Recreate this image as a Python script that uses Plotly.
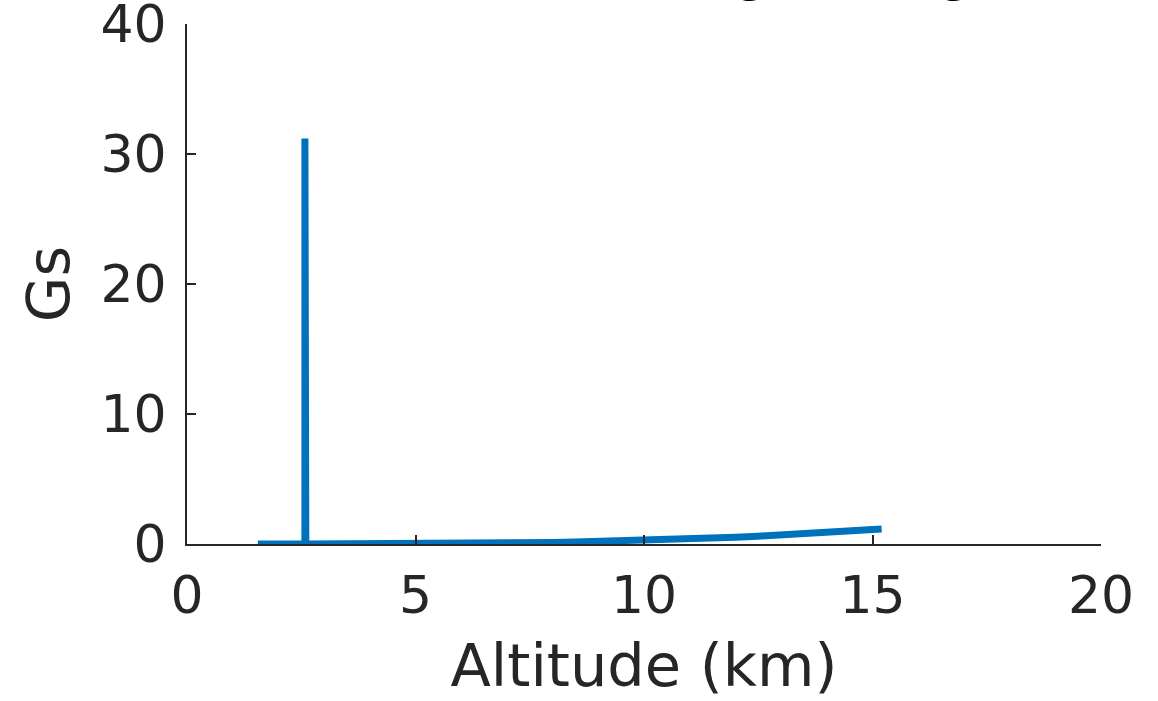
import plotly.graph_objects as go

# Data
altitude_km = [15.2, 14.5, 14.0, 13.5, 13.0, 12.5, 12.0, 11.5, 11.0, 10.5, 10.0, 9.5,
               9.0, 8.5, 8.0, 7.0, 6.0, 5.0, 4.0, 3.0, 2.6, 2.58, 2.58, 2.55, 2.0, 1.55]
gs = [1.15, 0.98, 0.87, 0.77, 0.68, 0.60, 0.52, 0.45, 0.39, 0.33, 0.28, 0.23,
      0.19, 0.155, 0.125, 0.08, 0.05, 0.03, 0.015, 0.005, 0.0, 31.2, 0.0, 0.0, 0.0, 0.0]

x_ticks = [0, 5, 10, 15, 20]
y_ticks = [0, 10, 20, 30, 40]
title_text = "Acceleration during Landing"

AX = "#262626"
FONT = "DejaVu Sans, Liberation Sans, Arial, sans-serif"

fig = go.Figure()
fig.add_trace(go.Scatter(
    x=altitude_km, y=gs, mode="lines",
    line=dict(color="#0072BD", width=7),
    showlegend=False, hoverinfo="skip",
))

fig.update_layout(
    width=1158, height=701,
    margin=dict(l=187, r=57, t=24, b=157, autoexpand=False),
    paper_bgcolor="white", plot_bgcolor="white",
    font=dict(family=FONT, color=AX),
    xaxis=dict(
        range=[0, 20], tickvals=x_ticks, ticktext=[str(v) for v in x_ticks],
        showline=True, linecolor=AX, linewidth=2, mirror=False,
        ticks="inside", ticklen=9, tickwidth=2, tickcolor=AX,
        showgrid=False, zeroline=False, automargin=False,
        tickfont=dict(size=52, family=FONT, color=AX),
        ticklabelstandoff=5, ticklabeloverflow="allow",
        title=dict(text="Altitude (km)", font=dict(size=59, family=FONT, color=AX), standoff=20),
    ),
    yaxis=dict(
        range=[0, 40], tickvals=y_ticks, ticktext=[str(v) for v in y_ticks],
        showline=True, linecolor=AX, linewidth=2, mirror=False,
        ticks="inside", ticklen=9, tickwidth=2, tickcolor=AX,
        showgrid=False, zeroline=False, automargin=False,
        tickfont=dict(size=52, family=FONT, color=AX),
        ticklabelstandoff=8, ticklabeloverflow="allow",
        title=dict(text="Gs", font=dict(size=59, family=FONT, color=AX), standoff=12),
    ),
    annotations=[dict(
        text="<b>" + title_text + "</b>",
        xref="paper", yref="paper", x=0.491, y=1.038, xanchor="center", yanchor="bottom",
        showarrow=False, font=dict(size=42, family=FONT, color="black"),
    )],
)

fig.write_html("out.html")
